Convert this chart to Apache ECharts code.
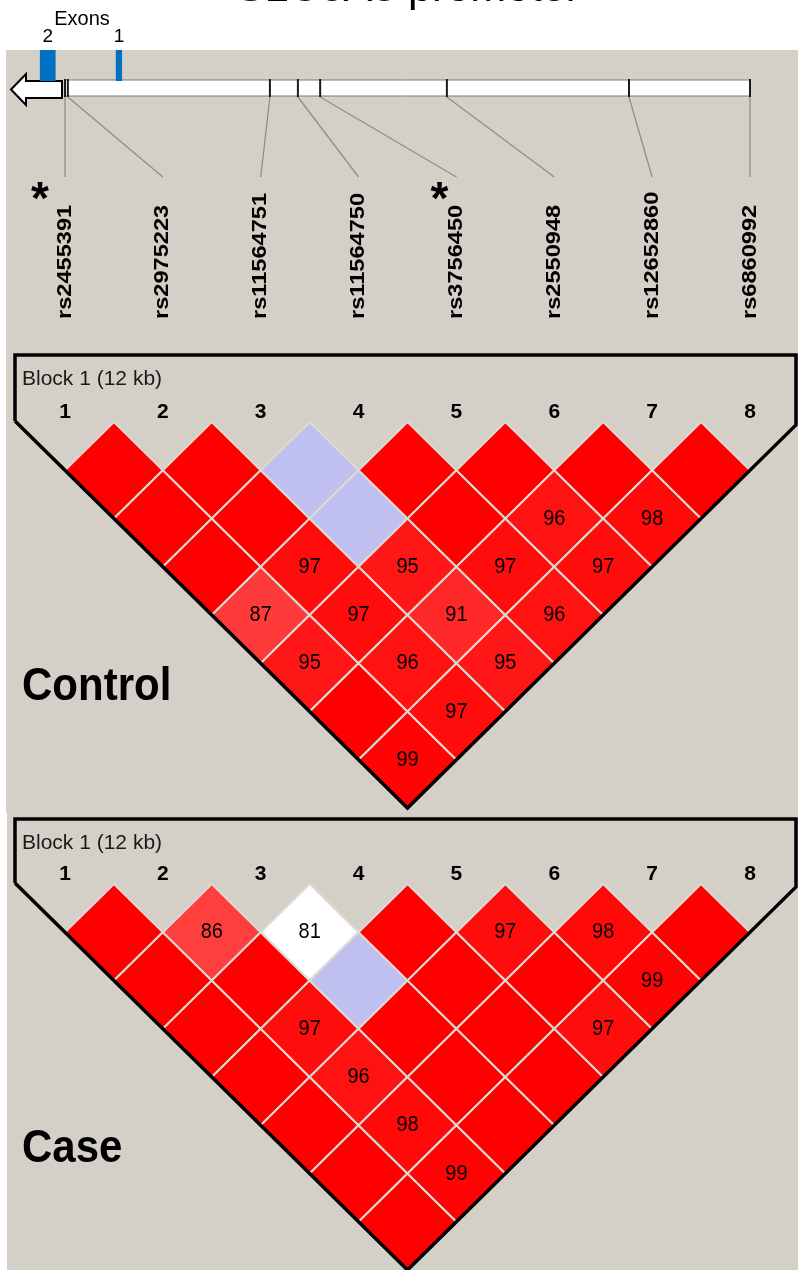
<!DOCTYPE html>
<html>
<head>
<meta charset="utf-8">
<script src="https://cdn.jsdelivr.net/npm/echarts@6/dist/echarts.min.js"></script>
<style>
  html, body { margin: 0; padding: 0; background: #ffffff; }
  #main { width: 798px; height: 1270px; }
</style>
</head>
<body>
<div id="main"></div>
<script>
// ---- data ----
const geneTitle = 'SLC6A3 promoter';
const markerNames = ['rs2455391', 'rs2975223', 'rs11564751', 'rs11564750',
                     'rs3756450', 'rs2550948', 'rs12652860', 'rs6860992'];
// marker positions along the region, kb from the first marker
const markerKb = [0, 0.05, 3.59, 4.08, 4.47, 6.69, 9.88, 12.0];
const starredMarkers = ['rs2455391', 'rs3756450'];
const exonNames = ['2', '1'];
const exonStartKb = [-0.44, 0.89];
const exonEndKb = [-0.165, 1.0];
const exonsHeading = 'Exons';
const blockTitle = 'Block 1 (12 kb)';
const markerNumbers = ['1', '2', '3', '4', '5', '6', '7', '8'];
const panelNames = ['Control', 'Case'];

// D' (x100) upper triangle: row i holds pairs (i, i+1) ... (i, 8)
const controlDPrime = [
  [100, 100, 100, 87, 95, 100, 99],
  [100, 100, 97, 97, 96, 97],
  [100, 100, 95, 91, 95],
  [100, 100, 97, 96],
  [100, 96, 97],
  [100, 98],
  [100]
];
// pairs with LOD < 2
const controlWeakPairs = [[3, 4], [3, 5]];

const caseDPrime = [
  [100, 100, 100, 100, 100, 100, 100],
  [86, 100, 97, 96, 98, 99],
  [81, 100, 100, 100, 100],
  [100, 100, 100, 100],
  [97, 100, 97],
  [98, 99],
  [100]
];
const caseWeakPairs = [[3, 4], [3, 5]];

// ---- layout ----
const FONT = '"Liberation Sans", Arial, sans-serif';
const PANEL_BG = '#D4D0C8';
const TRACK_LEFT = 65, TRACK_WIDTH = 685;
const LD_TOPS = [422, 884];
const LD_HEIGHT = 386;
const FRAME_GAP = [67, 65];
const STAR_DX = { rs2455391: -25, rs3756450: -17 };

function cellColor(dp, weak) {
  if (weak) return dp >= 100 ? '#C0C0F0' : '#FFFFFF';
  if (dp >= 100) return '#FF0000';
  const v = Math.round(446 * (1 - dp / 100));
  return 'rgb(255,' + v + ',' + v + ')';
}

function cellData(matrix, weakPairs) {
  const out = [];
  matrix.forEach(function (row, r) {
    row.forEach(function (dp, k) {
      const i = r + 1, j = r + 2 + k;
      const weak = weakPairs.some(function (p) { return p[0] === i && p[1] === j; });
      out.push([i, j, dp, weak ? 1 : 0]);
    });
  });
  return out;
}

const chart = echarts.init(document.getElementById('main'), null, { renderer: 'canvas' });

// gene track: x in kb, y in pixels
function renderTrack(params, api) {
  const nMarkers = markerKb.length;
  const kbMin = markerKb[0], kbMax = markerKb[nMarkers - 1];
  const a = api.coord([kbMin, 80]), b = api.coord([kbMax, 96]);
  const children = [];
  // region bar
  children.push({
    type: 'rect',
    shape: { x: a[0], y: a[1], width: b[0] - a[0], height: b[1] - a[1] },
    style: { fill: '#FFFFFF', stroke: '#7A7A7A', lineWidth: 1 }
  });
  markerKb.forEach(function (kb, idx) {
    const labelKb = kbMin + idx * (kbMax - kbMin) / (nMarkers - 1);
    const t0 = api.coord([kb, 79]), t1 = api.coord([kb, 97]);
    const l1 = api.coord([labelKb, 177]);
    // connector from marker position to its label
    children.push({
      type: 'line',
      shape: { x1: t1[0], y1: t1[1], x2: l1[0], y2: l1[1] },
      style: { stroke: '#8E8E8E', lineWidth: 1.3 }
    });
    // tick on the bar
    children.push({
      type: 'line',
      shape: { x1: t0[0], y1: t0[1], x2: t1[0], y2: t1[1] },
      style: { stroke: '#1A1A1A', lineWidth: 2 }
    });
    const lab = api.coord([labelKb, 319]);
    children.push({
      type: 'text',
      x: lab[0], y: lab[1],
      rotation: Math.PI / 2,
      scaleX: 1.18,
      style: {
        text: markerNames[idx], fill: '#000000',
        font: 'bold 20px ' + FONT, align: 'left', verticalAlign: 'middle'
      }
    });
    if (starredMarkers.indexOf(markerNames[idx]) >= 0) {
      children.push({
        type: 'text',
        x: lab[0] + STAR_DX[markerNames[idx]], y: 201,
        style: {
          text: '*', fill: '#000000',
          font: 'bold 46px ' + FONT, align: 'center', verticalAlign: 'middle'
        }
      });
    }
  });
  // exons
  exonNames.forEach(function (name, e) {
    const p0 = api.coord([exonStartKb[e], 50]), p1 = api.coord([exonEndKb[e], 81]);
    children.push({
      type: 'rect',
      shape: { x: p0[0], y: p0[1], width: p1[0] - p0[0], height: p1[1] - p0[1] },
      style: { fill: '#0070C0' }
    });
    children.push({
      type: 'text',
      x: (p0[0] + p1[0]) / 2, y: 37,
      style: { text: name, fill: '#000000', font: '19px ' + FONT, align: 'center', verticalAlign: 'middle' }
    });
  });
  const e0 = api.coord([exonStartKb[0], 0]), e1 = api.coord([exonEndKb[1], 0]);
  children.push({
    type: 'text',
    x: (e0[0] + e1[0]) / 2 + 1, y: 19,
    style: { text: exonsHeading, fill: '#000000', font: '20px ' + FONT, align: 'center', verticalAlign: 'middle' }
  });
  return { type: 'group', children: children };
}

function renderCell(params, api) {
  const i = api.value(0), j = api.value(1), dp = api.value(2), weak = api.value(3);
  const cx = (i + j) / 2, cy = (j - i) / 2;
  const pts = [[cx, cy - 0.5], [cx + 0.5, cy], [cx, cy + 0.5], [cx - 0.5, cy]].map(function (p) { return api.coord(p); });
  const c = api.coord([cx, cy]);
  const children = [{
    type: 'polygon',
    shape: { points: pts },
    style: { fill: cellColor(dp, weak), stroke: '#DEDAD3', lineWidth: 2 }
  }];
  if (dp < 100) {
    children.push({
      type: 'text', x: c[0], y: c[1],
      scaleY: 1.12,
      style: { text: String(dp), fill: '#000000', font: '20px ' + FONT, align: 'center', verticalAlign: 'middle' }
    });
  }
  return { type: 'group', children: children };
}

function makeFrameRenderer(panel) {
  return function (params, api) {
    const o = api.coord([0, 0]), u = api.coord([1, 1]);
    const ux = u[0] - o[0], uy = u[1] - o[1];
    const toPx = function (x, y) { return [o[0] + x * ux, o[1] + y * uy]; };
    const leftPx = 15, rightPx = 796;
    const top = o[1] - FRAME_GAP[panel];
    const xl = (leftPx - o[0]) / ux, xr = (rightPx - o[0]) / ux;
    const nM = markerNumbers.length;
    const pl = toPx(xl, xl - 0.5);
    const pr = toPx(xr, (nM + 0.5) - xr);
    const pv = toPx((nM + 1) / 2, (nM) / 2);
    const children = [{
      type: 'polyline',
      shape: { points: [pl, [leftPx, top], [rightPx, top], pr, pv, pl] },
      style: { stroke: '#000000', lineWidth: 3.5, fill: null, lineJoin: 'miter' }
    }, {
      type: 'text', x: 22, y: top + 24,
      style: { text: blockTitle, fill: '#1A1A1A', font: '21px ' + FONT, align: 'left', verticalAlign: 'middle' }
    }];
    markerNumbers.forEach(function (n, k) {
      const p = toPx(k + 1, 0);
      children.push({
        type: 'text', x: p[0], y: p[1] - 10,
        style: { text: n, fill: '#000000', font: 'bold 21px ' + FONT, align: 'center', verticalAlign: 'middle' }
      });
    });
    children.push({
      type: 'text', x: 22, y: o[1] + 265,
      scaleY: 1.08,
      style: { text: panelNames[panel], fill: '#000000', font: 'bold 42px ' + FONT, align: 'left', verticalAlign: 'middle' }
    });
    return { type: 'group', children: children };
  };
}

const hiddenAxis = { show: false };

chart.setOption({
  animation: false,
  backgroundColor: '#FFFFFF',
  graphic: [
    { type: 'rect', z: -10, shape: { x: 6, y: 50, width: 792, height: 763 }, style: { fill: PANEL_BG } },
    { type: 'rect', z: -10, shape: { x: 7, y: 813, width: 791, height: 457 }, style: { fill: PANEL_BG } },
    { type: 'text', x: 408, y: -11, style: { text: geneTitle, fill: '#000000', font: '43px ' + FONT, align: 'center', verticalAlign: 'middle' } },
    { type: 'polygon', shape: { points: [[11, 89.5], [26, 74], [26, 81], [62, 81], [62, 98], [26, 98], [26, 105]] },
      style: { fill: '#FFFFFF', stroke: '#000000', lineWidth: 2 } }
  ],
  grid: [
    { left: TRACK_LEFT, width: TRACK_WIDTH, top: 0, height: 340 },
    { left: TRACK_LEFT, width: TRACK_WIDTH, top: LD_TOPS[0], height: LD_HEIGHT },
    { left: TRACK_LEFT, width: TRACK_WIDTH, top: LD_TOPS[1], height: LD_HEIGHT }
  ],
  xAxis: [
    Object.assign({ type: 'value', gridIndex: 0, min: markerKb[0], max: markerKb[markerKb.length - 1] }, hiddenAxis),
    Object.assign({ type: 'value', gridIndex: 1, min: 1, max: markerNames.length }, hiddenAxis),
    Object.assign({ type: 'value', gridIndex: 2, min: 1, max: markerNames.length }, hiddenAxis)
  ],
  yAxis: [
    Object.assign({ type: 'value', gridIndex: 0, min: 0, max: 340, inverse: true }, hiddenAxis),
    Object.assign({ type: 'value', gridIndex: 1, min: 0, max: markerNames.length / 2, inverse: true }, hiddenAxis),
    Object.assign({ type: 'value', gridIndex: 2, min: 0, max: markerNames.length / 2, inverse: true }, hiddenAxis)
  ],
  series: [
    { type: 'custom', name: 'track', xAxisIndex: 0, yAxisIndex: 0, data: [[0, 0]], renderItem: renderTrack, silent: true },
    { type: 'custom', name: 'Control LD', xAxisIndex: 1, yAxisIndex: 1, data: cellData(controlDPrime, controlWeakPairs),
      encode: { x: 0, y: 1 }, renderItem: renderCell, silent: true },
    { type: 'custom', name: 'Control frame', xAxisIndex: 1, yAxisIndex: 1, data: [[0, 0]], renderItem: makeFrameRenderer(0), z: 5, silent: true },
    { type: 'custom', name: 'Case LD', xAxisIndex: 2, yAxisIndex: 2, data: cellData(caseDPrime, caseWeakPairs),
      encode: { x: 0, y: 1 }, renderItem: renderCell, silent: true },
    { type: 'custom', name: 'Case frame', xAxisIndex: 2, yAxisIndex: 2, data: [[0, 0]], renderItem: makeFrameRenderer(1), z: 5, silent: true }
  ]
});
</script>
</body>
</html>
